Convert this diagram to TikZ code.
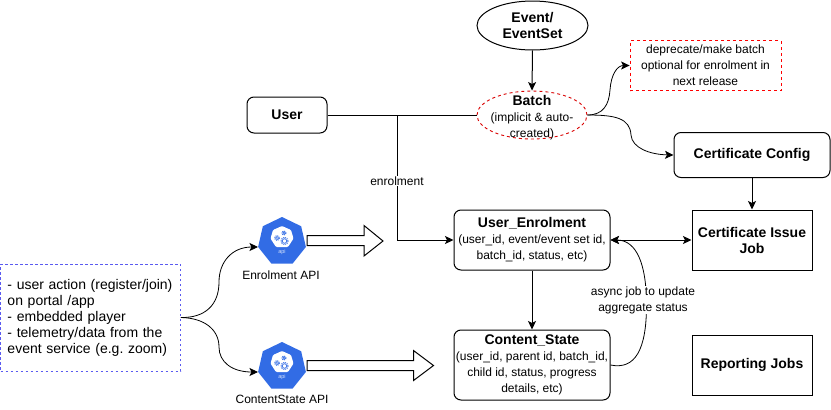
\documentclass[tikz,border=0pt]{standalone}
\usepackage{fontspec}
\setmainfont{Liberation Sans}
\frenchspacing
\usetikzlibrary{shapes.geometric,arrows.meta,calc}
\definecolor{apiblue}{HTML}{326CE5}
\tikzset{
  x=1pt,y=-1pt,
  every node/.style={font=\fontsize{12}{16}\selectfont,align=center,text=black,inner sep=0pt},
  conn/.style={line width=1pt,-{Stealth[length=8.5pt,width=8pt,inset=2pt]}},
  plain/.style={line width=1pt},
  curve/.style={line width=0.8pt,-{Stealth[length=8.5pt,width=8pt,inset=2pt]}},
  rbox/.style={draw,line width=1pt,rounded corners=7pt,rectangle},
  sbox/.style={draw,line width=1pt,rectangle},
  bigtext/.style={font=\fontsize{14}{16}\selectfont\bfseries},
  apishape/.style={fill=apiblue,draw=none,regular polygon,regular polygon sides=7,minimum size=49pt},
  apilabel/.style={font=\fontsize{12}{14}\selectfont},
  blockarrow/.style={draw,line width=1pt,fill=white,line join=miter},
  lab/.style={fill=white,inner xsep=1pt,inner ysep=0.5pt},
  fine dash/.style={dash pattern=on 3pt off 3pt},
}
\newcommand{\apigear}[3]{% x y r
  \fill[white] (#1,#2) circle (#3);
  \draw[apiblue,line width=0.9pt,dash pattern=on 1pt off 0.9pt] (#1,#2) circle (#3*0.8);
  \draw[apiblue,line width=0.7pt] (#1,#2) circle (#3*0.5);
}
\newcommand{\apiglyph}[2]{%
  \begin{scope}[shift={(#1,#2)}]
    \fill[white,rounded corners=1pt] (0,-13.5) -- (9,-9.5) -- (11.5,-1) -- (6,7.5) -- (-6,7.5) -- (-11.5,-1) -- (-9,-9.5) -- cycle;
    \apigear{-5}{-1.5}{3}
    \apigear{2}{-6.5}{2.5}
    \apigear{2.5}{1.5}{4.5}
    \node[font=\fontsize{5.5}{6}\selectfont,text=white!80!apiblue] at (0,12.5) {api};
  \end{scope}
}
\begin{document}
\begin{tikzpicture}
\useasboundingbox (0,0) rectangle (831,410);
% nodes
\node[draw,ellipse,line width=1pt,minimum width=111pt,minimum height=49pt,
  label={[bigtext]center:Event/\\EventSet}] (event) at (532.5,25.5) {};
\node[draw=red!85!black,fine dash,ellipse,line width=0.9pt,minimum width=110pt,minimum height=48pt,
  label={[yshift=-2.5pt]center:{\fontsize{14}{16}\selectfont\bfseries Batch}\\(implicit \& auto-\\created)}] (batch) at (532,115) {};
\node[draw=red,fine dash,line width=0.8pt,rectangle,minimum width=151pt,minimum height=50pt] (note) at (705.5,65.5) {deprecate/make batch\\optional for enrolment in\\next release};
\node[rbox,minimum width=80pt,minimum height=36pt,bigtext] (user) at (287,115) {User};
\node[rbox,minimum width=156pt,minimum height=45pt,bigtext] (cfg) at (752,155) {Certificate Config};
\node[rbox,minimum width=156pt,minimum height=60pt] (ue) at (532,240) {{\fontsize{14}{16}\selectfont\bfseries User\_Enrolment}\\(user\_id, event/event set id,\\batch\_id, status, etc)};
\node[rbox,minimum width=156pt,minimum height=70pt] (cs) at (532,365) {{\fontsize{14}{16}\selectfont\bfseries Content\_State}\\(user\_id, parent id, batch\_id,\\child id, status, progress\\details, etc)};
\node[sbox,minimum width=120pt,minimum height=60pt,bigtext] (issue) at (752,240) {Certificate Issue\\Job};
\node[sbox,minimum width=120pt,minimum height=60pt,bigtext] (report) at (752,365) {Reporting Jobs};
\node[draw={rgb,255:red,90;green,90;blue,240},dash pattern=on 2.5pt off 2.5pt,line width=0.7pt,rectangle,minimum width=180pt,minimum height=107pt,align=left,text width=166pt,font=\fontsize{14}{16}\selectfont] (src) at (90.5,317.5) {- user action (register/join)\\on portal /app\\- embedded player\\- telemetry/data from the\\event service (e.g. zoom)};
% API icons
\node[apishape] (api1) at (282,241.5) {};
\apiglyph{282}{239.5}
\node[apishape] (api2) at (282,366.5) {};
\apiglyph{282}{364.5}
\node[apilabel] (api1lab) at (281,275) {Enrolment API};
\node[apilabel] (api2lab) at (282,399.5) {ContentState API};
% block arrows
\draw[blockarrow] (307,235.5) -- (364,235.5) -- (364,225.5) -- (383,241) -- (364,256) -- (364,245.5) -- (307,245.5) -- cycle;
\draw[blockarrow] (307,360.5) -- (413.5,360.5) -- (413.5,350.5) -- (433.5,365.5) -- (413.5,380.5) -- (413.5,370.5) -- (307,370.5) -- cycle;
% connectors
\coordinate (branch) at (397,115);
\coordinate (corner) at (397,240);
\draw[plain] (user.east) -- (batch.west);
\draw[conn] (branch) -- (corner) -- (ue.west);
\node[lab] (enrol) at (397,181) {enrolment};
\draw[conn] (event.south) -- (batch.north);
\draw[conn] (ue.south) -- (cs.north);
\draw[conn] (cfg.south) -- (issue.north);
\draw[line width=1pt,{Stealth[length=8.5pt,width=8pt,inset=2pt]}-{Stealth[length=8.5pt,width=8pt,inset=2pt]}] (ue.east) -- (issue.west);
\draw[curve] (batch.east) .. controls (603,115) and (609,105) .. (610,90) .. controls (611,75) and (617,65.5) .. (note.west);
\draw[curve] (batch.east) .. controls (615,115) and (630,118) .. (631,135) .. controls (632,148) and (650,154.5) .. (cfg.west);
\draw[curve] (cs.east) .. controls (635,370) and (646.5,350) .. (646.5,305) .. controls (646.5,265) and (637,240) .. (ue.east);
\node[lab] (async) at (643,300) {async job to update\\aggregate status};
\draw[curve] (src.east) .. controls (205,318) and (219,305) .. (219,282) .. controls (219,262) and (232,247) .. (258,247);
\draw[curve] (src.east) .. controls (205,318) and (219,330) .. (219,347) .. controls (219,362) and (232,372) .. (258,372);
\end{tikzpicture}
\end{document}
